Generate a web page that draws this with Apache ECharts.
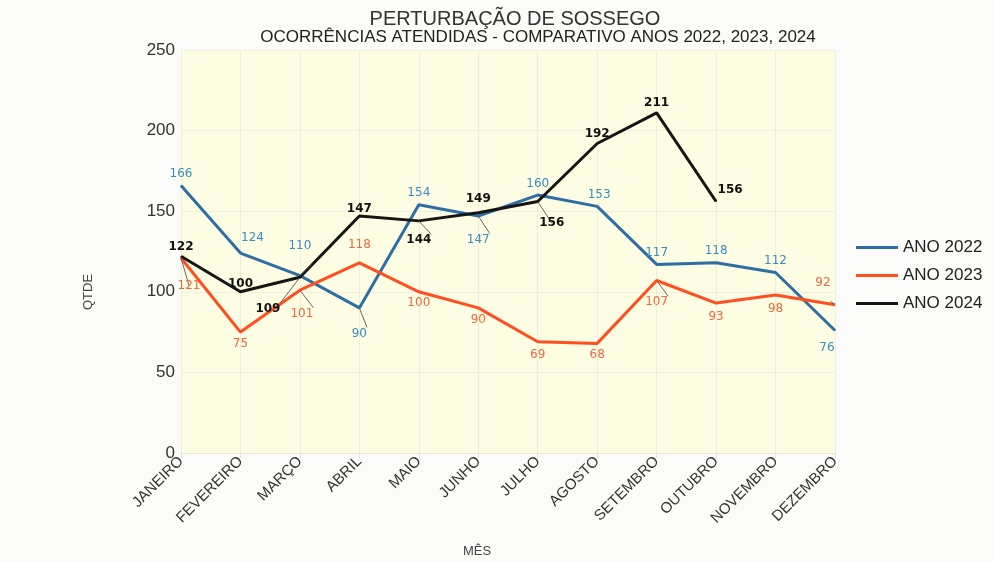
<!DOCTYPE html>
<html><head><meta charset="utf-8">
<script src="https://cdn.jsdelivr.net/npm/echarts@6/dist/echarts.min.js"></script>
<style>html,body{margin:0;padding:0;background:#fbfbf9;}#c{width:993px;height:562px;}</style>
</head><body><div id="c"></div>
<script>
const months = ['JANEIRO','FEVEREIRO','MARÇO','ABRIL','MAIO','JUNHO','JULHO','AGOSTO','SETEMBRO','OUTUBRO','NOVEMBRO','DEZEMBRO'];
const ano2022 = [166,124,110,90,154,147,160,153,117,118,112,76];
const ano2023 = [121,75,101,118,100,90,69,68,107,93,98,92];
const ano2024 = [122,100,109,147,144,149,156,192,211,156,null,null];
const yTicks = [0,50,100,150,200,250];

// label placement (not data)
const pos2022 = ['top','top','top','bottom','top','bottom','top','top','top','top','top','bottom'];
const pos2023 = ['bottom','bottom','bottom','top','bottom','bottom','bottom','bottom','bottom','bottom','bottom','top'];
const pos2024 = ['top','top','bottom','top','bottom','top','bottom','top','top','right','top','top'];
const off2022 = [[0,0],[12,-4],[0,-18],[0,14],[0,0],[0,12],[0,0],[2,0],[0,0],[0,0],[0,0],[-8,6]];
const off2023 = [[8,16],[0,0],[2,12],[0,-6],[0,0],[0,0],[0,2],[0,0],[0,10],[0,2],[0,2],[-12,-10]];
const off2024 = [[0,2],[0,4],[-32,20],[0,4],[0,8],[0,-2],[14,10],[0,2],[0,2],[-4,-12],[0,0],[0,0]];
const lead2022 = [false,false,true,true,false,true,false,false,false,false,false,false];
const lead2023 = [true,false,true,false,false,false,false,false,true,false,false,true];
const lead2024 = [true,false,true,false,true,true,true,false,false,false,false,false];

function build(vals,pos,off,lead,color){
  return vals.map((v,i)=>({value:v,label:{position:pos[i],offset:off[i],color:color},
    labelLine:{show:lead[i],length2:0,lineStyle:{color:'#666',width:1}}}));
}
const chart = echarts.init(document.getElementById('c'));
const font = '"Liberation Sans", Arial, sans-serif';
const dv = '"DejaVu Sans", sans-serif';
chart.setOption({
  backgroundColor:'#fbfbf9',
  title:[{text:'PERTURBAÇÃO DE SOSSEGO',left:510,top:4,textAlign:'center',
          textStyle:{fontFamily:font,fontSize:20,fontWeight:'normal',color:'#333'}},
         {text:'OCORRÊNCIAS ATENDIDAS - COMPARATIVO ANOS 2022, 2023, 2024',left:533,top:24,textAlign:'center',
          textStyle:{fontFamily:font,fontSize:17,fontWeight:'normal',color:'#222'}}],
  legend:{orient:'vertical',left:851,top:234,itemWidth:42,itemHeight:3,itemGap:11,icon:'rect',
    textStyle:{fontFamily:font,fontSize:17,color:'#222'},data:['ANO 2022','ANO 2023','ANO 2024']},
  graphic:[
    {type:'text',left:463,top:545,style:{text:'MÊS',font:'13px "Liberation Sans", Arial',fill:'#444'}},
    {type:'text',x:82,y:310,rotation:Math.PI/2,style:{text:'QTDE',font:'13px "Liberation Sans", Arial',fill:'#444'}}
  ],
  grid:{left:181,right:158,top:50,bottom:109,backgroundColor:'#fdfde4',show:true,borderWidth:0},
  xAxis:{type:'category',data:months,boundaryGap:false,
    axisLine:{show:true,lineStyle:{color:'#e6e6d8'}},axisTick:{show:true,lineStyle:{color:'#e0e0d8'}},
    splitLine:{show:true,lineStyle:{color:'#eeeedd'}},
    axisLabel:{rotate:45,fontFamily:font,fontSize:15,color:'#333',margin:6}},
  yAxis:{type:'value',min:0,max:250,interval:50,
    axisLine:{show:false},axisTick:{show:false},
    splitLine:{show:true,lineStyle:{color:'#f0f0e0'}},
    axisLabel:{fontFamily:font,fontSize:17,color:'#333',margin:6,
      formatter:v=>yTicks.includes(v)?String(v):''}},
  series:[
    {name:'ANO 2022',type:'line',data:build(ano2022,pos2022,off2022,lead2022,'#3a8cc0'),symbol:'circle',symbolSize:1,showSymbol:true,
     lineStyle:{width:3,color:'#2e6ea3'},itemStyle:{color:'#2e6ea3'},
     label:{show:true,fontFamily:dv,fontSize:12}},
    {name:'ANO 2023',type:'line',data:build(ano2023,pos2023,off2023,lead2023,'#f0683c'),symbol:'circle',symbolSize:1,showSymbol:true,
     lineStyle:{width:3,color:'#ff4f1f'},itemStyle:{color:'#ff4f1f'},
     label:{show:true,fontFamily:dv,fontSize:12}},
    {name:'ANO 2024',type:'line',data:build(ano2024,pos2024,off2024,lead2024,'#111'),symbol:'circle',symbolSize:1,showSymbol:true,
     lineStyle:{width:3,color:'#151515'},itemStyle:{color:'#151515'},
     label:{show:true,fontFamily:dv,fontSize:12,fontWeight:'bold'}}
  ]
});
</script></body></html>
